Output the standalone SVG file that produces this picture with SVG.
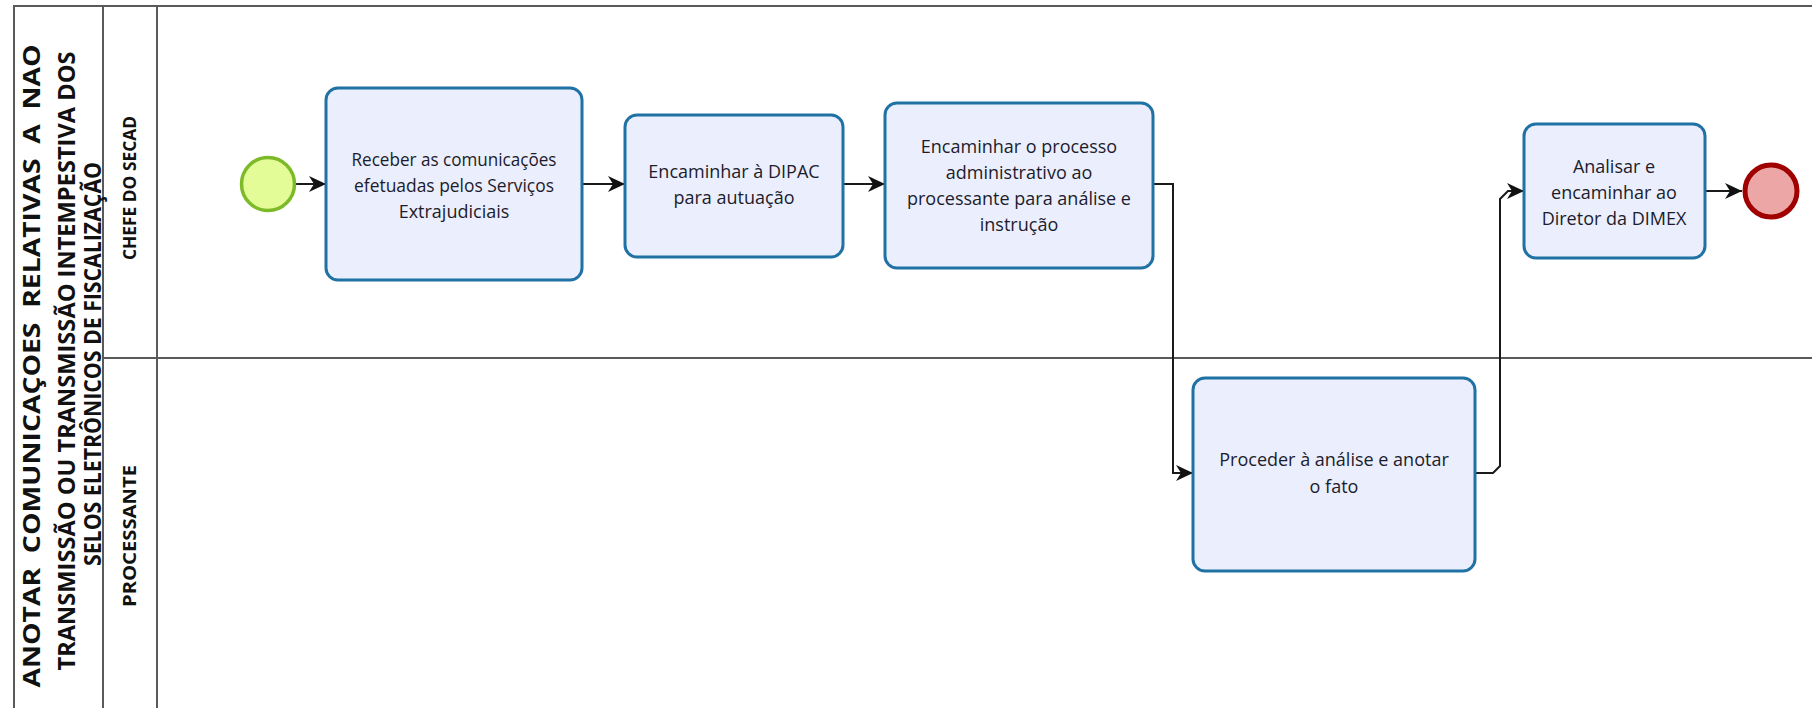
<svg xmlns="http://www.w3.org/2000/svg" width="1812" height="708" viewBox="0 0 1812 708">
  <style>
    .pool { fill: none; stroke: #5a5a5a; stroke-width: 2; }
    .task { fill: #EBEEFC; stroke: #1F72A3; stroke-width: 3; }
    .txt { font-family: "Open Sans", "Noto Sans", sans-serif; font-size: 18px; fill: #1c1c2c; text-anchor: middle; }
    .title { font-family: "Open Sans", "Noto Sans", sans-serif; font-weight: bold; font-size: 23px; fill: #111; text-anchor: middle; white-space: pre; }
    .lane { font-family: "Open Sans", "Noto Sans", sans-serif; font-weight: bold; font-size: 18px; fill: #111; text-anchor: middle; }
    .conn { fill: none; stroke: #1a1a1a; stroke-width: 2; }
  </style>
  <defs>
    <marker id="arrow" markerUnits="userSpaceOnUse" markerWidth="18" markerHeight="18" viewBox="0 0 18 18" refX="17" refY="9" orient="auto">
      <path d="M0,1 L17,9 L0,17 L5,9 z" fill="#111"/>
    </marker>
  </defs>
  <rect x="0" y="0" width="1812" height="708" fill="#ffffff"/>

  <g id="pool">
    <path class="pool" d="M1812,6 H14 V708"/>
    <line class="pool" x1="103" y1="6" x2="103" y2="708"/>
    <line class="pool" x1="157" y1="6" x2="157" y2="708"/>
    <line class="pool" x1="103" y1="358" x2="1812" y2="358"/>
    <text class="title" transform="translate(40,366) rotate(-90)" textLength="643" lengthAdjust="spacingAndGlyphs">ANOTAR  COMUNICAÇOES  RELATIVAS  A  NAO</text>
    <text class="title" transform="translate(75,361) rotate(-90)" textLength="619" lengthAdjust="spacingAndGlyphs">TRANSMISSÃO OU TRANSMISSÃO INTEMPESTIVA DOS</text>
    <text class="title" transform="translate(101,364) rotate(-90)" textLength="404" lengthAdjust="spacingAndGlyphs">SELOS ELETRÔNICOS DE FISCALIZAÇÃO</text>
  </g>
  <g id="lane-chefe">
    <text class="lane" transform="translate(136,188) rotate(-90)" textLength="144" lengthAdjust="spacingAndGlyphs">CHEFE DO SECAD</text>
  </g>
  <g id="lane-processante">
    <text class="lane" transform="translate(136,536) rotate(-90)" textLength="142" lengthAdjust="spacingAndGlyphs">PROCESSANTE</text>
  </g>

  <g id="connectors">
    <path class="conn" d="M296,184 H326" marker-end="url(#arrow)"/>
    <path class="conn" d="M582,184 H625" marker-end="url(#arrow)"/>
    <path class="conn" d="M843,184 H885" marker-end="url(#arrow)"/>
    <path class="conn" d="M1153,184 H1173 V473 H1193" marker-end="url(#arrow)"/>
    <path class="conn" d="M1475,473 H1493 L1500,466 V199 L1508,191 H1524" marker-end="url(#arrow)"/>
    <path class="conn" d="M1705,191 H1742" marker-end="url(#arrow)"/>
  </g>

  <g id="start">
    <circle cx="268" cy="184" r="26.5" fill="#E4FC98" stroke="#7DBA28" stroke-width="3.5"/>
  </g>
  <g id="task-receber">
    <rect class="task" x="326" y="88" width="256" height="192" rx="12"/>
    <text class="txt" x="454" y="166" textLength="205" lengthAdjust="spacingAndGlyphs">Receber as comunicações</text>
    <text class="txt" x="454" y="192" textLength="200" lengthAdjust="spacingAndGlyphs">efetuadas pelos Serviços</text>
    <text class="txt" x="454" y="218">Extrajudiciais</text>
  </g>
  <g id="task-dipac">
    <rect class="task" x="625" y="115" width="218" height="142" rx="12"/>
    <text class="txt" x="734" y="178">Encaminhar à DIPAC</text>
    <text class="txt" x="734" y="204">para autuação</text>
  </g>
  <g id="task-encaminhar">
    <rect class="task" x="885" y="103" width="268" height="165" rx="12"/>
    <text class="txt" x="1019" y="153">Encaminhar o processo</text>
    <text class="txt" x="1019" y="179">administrativo ao</text>
    <text class="txt" x="1019" y="205">processante para análise e</text>
    <text class="txt" x="1019" y="231">instrução</text>
  </g>
  <g id="task-proceder">
    <rect class="task" x="1193" y="378" width="282" height="193" rx="12"/>
    <text class="txt" x="1334" y="466">Proceder à análise e anotar</text>
    <text class="txt" x="1334" y="493">o fato</text>
  </g>
  <g id="task-analisar">
    <rect class="task" x="1524" y="124" width="181" height="134" rx="12"/>
    <text class="txt" x="1614" y="173">Analisar e</text>
    <text class="txt" x="1614" y="199">encaminhar ao</text>
    <text class="txt" x="1614" y="225">Diretor da DIMEX</text>
  </g>
  <g id="end">
    <circle cx="1771" cy="191" r="26" fill="#EDA6A6" stroke="#A00000" stroke-width="5"/>
  </g>
</svg>
